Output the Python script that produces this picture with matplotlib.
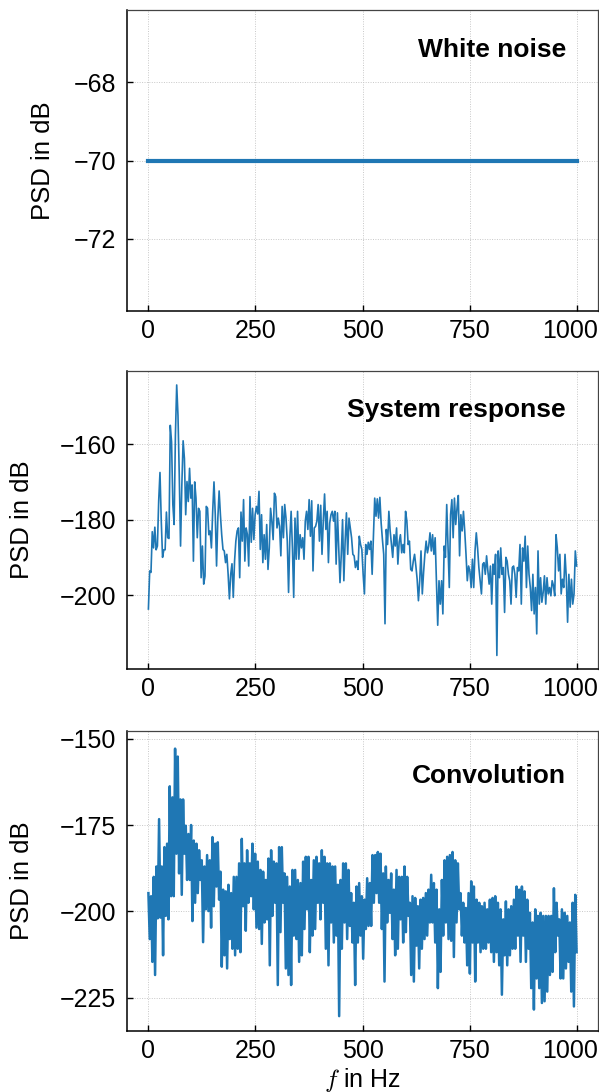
import numpy as np
import matplotlib
matplotlib.use('Agg')
import matplotlib.pyplot as plt
import matplotlib.transforms as mtransforms

plt.rcParams['font.family'] = ['Liberation Sans', 'DejaVu Sans']
plt.rcParams['mathtext.fontset'] = 'cm'

# white noise: flat PSD over the whole band
f_white = [0, 1000]
psd_white = [-70.0, -70.0]

# system response PSD (dB), evenly spaced over 0..1000 Hz
psd_sys = [
    # 0 .. ~325 Hz
    -203.7, -193.6, -194.0, -183.2, -187.5, -182.0, -188.0, -187.0, -175.0, -167.5,
    -180.4, -190.0, -188.0, -188.0, -178.0, -184.8, -185.0, -155.0, -159.4, -176.0,
    -181.3, -157.6, -144.3, -152.4, -168.2, -187.0, -170.8, -159.1, -163.8, -178.7,
    -169.9, -175.2, -166.4, -174.3, -170.8, -191.0, -170.0, -174.3, -184.8, -177.0,
    -177.8, -195.4, -187.0, -197.1, -195.0, -176.5, -177.0, -184.0, -183.0, -187.5,
    -177.8, -170.0, -178.7, -192.3, -179.6, -172.4, -178.7, -184.0, -187.9, -188.3,
    -191.4, -189.2, -194.5, -201.0, -194.5, -191.7, -200.6, -191.0, -185.7, -183.0,
    -182.2, -195.4, -178.0, -185.7, -174.7, -191.0, -182.2, -184.0, -192.3, -173.9,
    -186.0, -177.0, -185.3, -178.7, -176.5, -178.5, -172.5, -187.9, -178.7, -191.4,
    -184.0, -190.5, -181.3, -193.2, -187.5, -177.0, -180.4, -185.3, -173.0, -173.9,
    -182.2, -179.6, -181.8, -189.6, -176.5, -184.8, -176.0, -179.6, -185.7, -199.3,
    -184.8,
    # ~326 .. 655 Hz
    -177.8, -187.5, -200.6, -179.6, -190.5, -177.8, -190.5, -184.0, -187.5, -184.8,
    -190.5, -180.4, -177.8, -182.6, -174.7, -184.4, -175.0, -193.6, -182.2, -181.8,
    -180.4, -176.0, -185.7, -176.2, -189.2, -180.4, -173.2, -182.6, -177.8, -191.4,
    -180.9, -178.7, -177.8, -180.4, -177.8, -191.8, -178.2, -187.5, -196.7, -189.2,
    -180.0, -196.2, -185.7, -178.2, -189.2, -179.6, -182.2, -184.8, -189.2, -189.6,
    -192.7, -191.0, -193.2, -184.4, -186.6, -187.9, -194.5, -199.7, -186.6, -189.2,
    -186.0, -187.9, -185.7, -194.5, -184.8, -174.3, -179.1, -174.5, -179.6, -174.1,
    -180.9, -185.3, -189.2, -207.6, -182.6, -186.6, -177.8, -183.0, -186.6, -190.0,
    -184.0, -187.0, -182.2, -191.8, -186.0, -184.0, -188.8, -186.6, -188.8, -177.8,
    -180.4, -186.6, -185.7, -193.2, -193.6, -191.0, -189.2, -192.3, -195.8, -201.5,
    -196.2, -188.3, -199.7, -194.0, -189.2, -185.7, -188.8, -187.0,
    # 657 .. 1000 Hz
    -183.5, -188.3, -184.0, -189.2, -184.8, -196.2, -208.0, -196.2, -202.4, -196.2,
    -205.0, -187.0, -190.0, -176.0, -186.6, -198.0, -178.7, -174.7, -184.8, -174.3,
    -181.3, -177.0, -173.6, -189.6, -178.7, -183.0, -177.8, -183.0, -189.2, -196.2,
    -192.3, -193.6, -198.0, -190.5, -198.0, -188.3, -183.5, -187.5, -192.7, -196.2,
    -199.7, -191.8, -191.4, -194.5, -189.6, -193.6, -197.1, -192.3, -202.4, -191.8,
    -194.5, -189.2, -216.0, -188.3, -195.4, -187.5, -194.5, -192.7, -204.6, -190.0,
    -191.0, -194.5, -196.2, -202.4, -192.7, -192.3, -194.5, -200.6, -192.7, -193.6,
    -186.6, -202.4, -187.5, -191.0, -184.4, -198.0, -187.0, -194.5, -198.0, -204.1,
    -194.5, -205.0, -198.0, -210.3, -188.3, -202.4, -195.4, -201.9, -199.3, -194.9,
    -202.4, -195.4, -199.7, -198.0, -200.2, -196.2, -197.5, -200.2, -184.0, -187.5,
    -193.6, -189.2, -199.7, -195.8, -198.0, -189.2, -195.4, -207.2, -194.5, -203.2,
    -195.8, -202.4, -199.7, -188.3, -192.3,
]

# convolution PSD (dB): upper / lower spikes of the dense trace, ~6 Hz per pair
conv_hi = [
    -194.7, -195.6, -190.0, -187.0, -173.3, -187.0, -181.4, -180.4, -163.8, -167.0,
    -152.9, -155.2, -167.6, -167.6, -175.2, -177.6, -175.0, -179.5, -180.4, -182.3,
    -185.2, -187.0, -183.7, -185.2, -178.5, -180.4, -180.0, -188.5, -193.7, -194.2,
    -192.3, -194.7, -190.0, -190.0, -186.1, -179.0, -186.1, -182.3, -186.1, -180.4,
    -183.3, -185.6, -188.0, -188.5, -190.9, -184.7, -182.3, -185.6, -186.1, -181.4,
    -181.4, -189.0, -190.0, -192.8, -188.0,
    -188.0, -190.9, -191.8, -185.6, -184.2, -184.2, -190.9, -185.2, -184.2, -186.1,
    -182.3, -184.2, -186.1, -186.1, -187.0, -187.0, -192.3, -190.9, -186.1, -186.1,
    -188.0, -194.7, -197.5, -192.8, -191.8, -195.6, -196.6, -190.4, -191.8, -183.7,
    -183.7, -182.8, -183.3, -189.0, -187.0, -190.9, -189.0, -193.7, -188.0, -190.0,
    -190.0, -187.0, -190.0, -197.5, -195.6, -196.1, -198.5, -196.6, -196.1, -194.7,
    -193.7, -189.4, -191.8, -193.7,
    -199.4, -190.9, -185.2, -184.2, -183.7, -182.8, -185.2, -186.1, -194.7, -197.5,
    -199.0, -194.7, -191.3, -192.8, -196.6, -197.5, -198.5, -197.5, -199.4, -196.6,
    -196.1, -195.6, -197.5, -199.4, -202.3, -197.1, -199.4, -198.5, -196.6, -192.8,
    -193.7, -192.8, -194.2, -196.6, -200.4, -203.2, -199.4, -201.3, -200.4, -201.3,
    -201.3, -201.3, -201.3, -193.3, -197.5, -202.3, -199.4, -200.4, -201.3, -203.2,
    -197.5, -195.2,
]
conv_lo = [
    -208.0, -214.6, -218.4, -202.0, -201.8, -212.7, -201.3, -202.3, -195.6, -195.6,
    -183.3, -189.0, -195.2, -183.3, -190.9, -190.9, -202.8, -197.5, -194.7, -190.9,
    -208.9, -199.4, -199.9, -204.7, -198.5, -192.8, -196.6, -216.0, -212.7, -216.5,
    -208.0, -210.8, -212.7, -210.8, -211.8, -198.5, -205.6, -197.5, -195.6, -199.4,
    -204.7, -205.1, -209.4, -203.2, -202.3, -215.6, -201.3, -197.5, -221.3, -206.0,
    -197.5, -216.5, -218.4, -221.3, -207.0,
    -208.0, -214.6, -212.7, -205.1, -199.4, -211.8, -207.0, -205.1, -197.5, -202.3,
    -197.5, -210.8, -215.6, -203.2, -209.0, -207.0, -230.3, -210.8, -203.2, -208.0,
    -204.2, -209.0, -221.3, -209.0, -207.0, -213.7, -205.1, -204.2, -204.2, -197.5,
    -194.7, -197.5, -205.1, -220.3, -203.2, -200.4, -208.0, -212.7, -210.8, -202.3,
    -209.0, -206.0, -201.3, -218.4, -220.3, -209.9, -216.5, -210.8, -208.0, -207.0,
    -203.2, -203.2, -209.0, -222.2,
    -217.5, -207.0, -203.2, -208.0, -208.5, -213.2, -203.2, -199.4, -207.0, -209.0,
    -215.6, -218.0, -209.0, -220.3, -209.0, -211.8, -210.8, -210.8, -209.0, -211.8,
    -214.6, -211.8, -215.6, -224.1, -212.7, -215.6, -212.7, -210.8, -210.8, -207.0,
    -214.6, -207.0, -214.6, -210.8, -222.2, -228.4, -219.4, -222.2, -226.5, -226.0,
    -223.2, -218.4, -217.5, -211.8, -207.0, -219.4, -219.4, -216.5, -214.6, -223.2,
    -227.5, -211.8,
]

titles = ['White noise', 'System response', 'Convolution']
yticks = [[-72, -70, -68], [-200, -180, -160], [-225, -200, -175, -150]]
ylims = [(-73.85, -66.15), (-219.6, -140.6), (-234.6, -147.8)]
title_y = [0.845, 0.847, 0.826]
ylabel_x = [-0.153, -0.197, -0.197]
xticks = [0, 250, 500, 750, 1000]

f_sys = np.linspace(0, 1000, len(psd_sys))
psd_conv = np.column_stack([conv_hi, conv_lo]).ravel()
f_conv = np.linspace(0, 1000, len(psd_conv))

W, H = 599, 1092
boxes = [(127, 10, 598, 311), (127, 371, 598, 669), (127, 731, 598, 1031)]
fig = plt.figure(figsize=(W / 100, H / 100), dpi=100)
axes = []
for (l, t, r, b) in boxes:
    axes.append(fig.add_axes([l / W, 1 - b / H, (r - l) / W, (b - t) / H]))

blue = '#1f77b4'
axes[0].plot(f_white, psd_white, color=blue, lw=3.0)
axes[1].plot(f_sys, psd_sys, color=blue, lw=1.2)
axes[2].plot(f_conv, psd_conv, color=blue, lw=1.8)

for i, ax in enumerate(axes):
    ax.set_xlim(-50, 1050)
    ax.set_ylim(*ylims[i])
    ax.set_xticks(xticks)
    ax.set_yticks(yticks[i])
    ax.grid(True, ls=(0, (1, 1.5)), color='#c8c8c8', lw=0.7)
    ax.set_axisbelow(True)
    ax.tick_params(direction='in', length=4, width=1, labelsize=18, color='black')
    ax.tick_params(axis='y', pad=8)
    ax.tick_params(axis='x', pad=6)
    for s in ['left', 'bottom']:
        ax.spines[s].set_linewidth(1.1)
        ax.spines[s].set_color('black')
    for s in ['top', 'right']:
        ax.spines[s].set_linewidth(0.9)
        ax.spines[s].set_color('#444444')
    ax.set_ylabel('PSD in dB', fontsize=18.5)
    ax.yaxis.set_label_coords(ylabel_x[i], 0.5)
    ax.text(0.932, title_y[i], titles[i], transform=ax.transAxes, ha='right',
            va='baseline', fontsize=19, fontweight='bold')
    # keep the last x label inside the figure, as in the original
    last = ax.get_xticklabels()[-1]
    last.set_transform(last.get_transform() +
                       mtransforms.ScaledTranslation(-7 / 100, 0, fig.dpi_scale_trans))

axes[2].set_xlabel(r'$f$ in Hz', fontsize=18)
axes[2].xaxis.set_label_coords(0.5, -0.117)

fig.savefig('out.png', dpi=100)
